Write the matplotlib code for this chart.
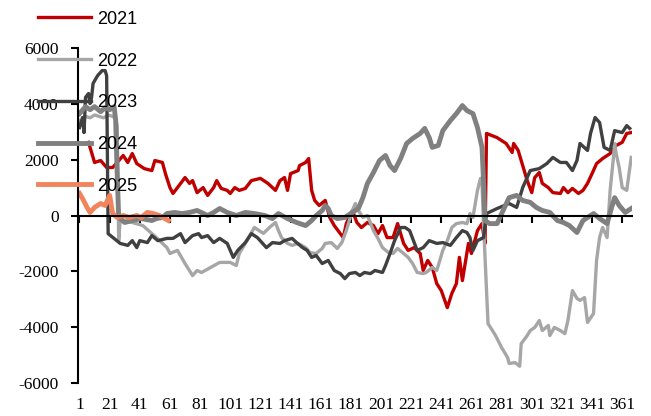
import numpy as np
import matplotlib
matplotlib.use('Agg')
import matplotlib.pyplot as plt

plt.rcParams['axes.unicode_minus'] = False

# day-of-year index and value for each year
days_2021 = [7, 11, 15, 19, 23, 26, 30, 33, 36, 39, 44, 49, 51, 56, 58, 61, 63, 66, 71, 74,
             76, 79, 83, 86, 90, 92, 95, 99, 101, 104, 107, 111, 115, 121, 126, 131, 134, 137, 139, 141,
             146, 147, 151, 153, 155, 157, 160, 164, 167, 170, 174, 176, 178, 182, 185, 188, 192, 196, 199, 202,
             205, 209, 212, 216, 219, 223, 227, 229, 232, 235, 238, 241, 245, 248, 251, 253, 255, 259, 261, 265,
             268, 270, 271, 278, 284, 288, 289, 292, 294, 296, 298, 301, 303, 306, 308, 312, 315, 320, 322, 325,
             328, 332, 335, 338, 341, 344, 348, 353, 357, 361, 364, 367]
vals_2021 = [2620, 1900, 1970, 1720, 1720, 1900, 2150, 1900, 2220, 1860, 1680, 1610, 1970, 1900, 1500, 1000, 790, 1000, 1360, 1150,
             1250, 820, 1000, 720, 1000, 1250, 970, 900, 790, 1000, 900, 970, 1250, 1330, 1150, 900, 1250, 1360, 900, 1500,
             1610, 1790, 1900, 2040, 900, 540, 360, 540, -70, -360, -650, -790, -290, 180, -250, -430, -250, -360, -650, -360,
             -790, -790, -290, -1000, -1250, -1150, -1360, -1970, -1610, -1860, -2440, -2690, -3300, -2790, -2440, -1500, -2330, -1000, -1360, -540,
             -290, -1000, 2940, 2790, 2580, 2260, 2580, 2330, 1970, 1610, 1250, 820, 1360, 1540, 1150, 1000, 820, 790, 1000, 820,
             970, 790, 900, 1150, 1500, 1860, 2040, 2220, 2510, 2620, 2940, 2970]

days_2022 = [1, 3, 5, 8, 11, 14, 17, 20, 23, 25, 26, 27, 28, 36, 43, 52, 59, 61, 66, 71,
             76, 79, 82, 88, 94, 101, 105, 107, 112, 117, 123, 127, 131, 133, 135, 139, 142, 146, 151, 154,
             158, 162, 164, 168, 172, 175, 178, 182, 184, 186, 189, 192, 196, 199, 202, 206, 209, 212, 216, 219,
             222, 225, 229, 231, 235, 238, 242, 245, 248, 251, 255, 258, 260, 262, 265, 267, 268, 269, 272, 277,
             281, 285, 286, 290, 293, 294, 298, 300, 303, 306, 308, 312, 313, 316, 320, 323, 325, 328, 331, 333,
             336, 338, 342, 344, 346, 348, 351, 353, 355, 356, 357, 359, 361, 364, 367]
vals_2022 = [3400, 3300, 3550, 3500, 3600, 3550, 3500, 3600, 3550, 3500, 3200, -900, -150, -250, -360, -790, -1150, -1360, -1250, -1720,
             -2150, -1970, -2040, -1860, -1680, -1680, -1790, -1360, -900, -430, -640, -430, -250, -540, -790, -1000, -1070, -1000, -1150, -1330,
             -1360, -1180, -1000, -970, -1180, -970, -540, 180, 430, 180, -70, 0, -540, -820, -1150, -1330, -1360, -1180, -1360, -1500,
             -1720, -2040, -2080, -2040, -1860, -1970, -1250, -900, -430, -290, -250, -290, 70, -70, 900, 1330, 1150, -290, -3870, -4300,
             -4730, -5090, -5300, -5270, -5400, -4590, -4300, -4120, -4010, -3760, -4120, -3940, -4300, -4010, -4120, -4230, -3760, -2690, -2970, -3040,
             -2940, -3830, -3510, -1610, -790, -430, -790, 900, 1970, 2580, 2220, 1720, 1000, 900, 2080]

days_2023 = [1, 3, 4, 5, 7, 8, 9, 10, 13, 16, 18, 19, 20, 28, 33, 36, 39, 41, 46, 49,
             53, 59, 63, 68, 71, 76, 80, 82, 86, 90, 94, 99, 103, 106, 111, 115, 119, 122, 125, 129,
             134, 137, 142, 145, 149, 152, 155, 158, 162, 166, 170, 174, 177, 180, 184, 187, 190, 194, 197, 202,
             204, 207, 210, 214, 217, 220, 225, 229, 233, 238, 242, 247, 251, 255, 258, 260, 262, 265, 269, 271,
             278, 286, 291, 295, 300, 306, 311, 315, 320, 324, 328, 331, 333, 338, 340, 343, 346, 349, 353, 356,
             361, 364, 366]
vals_2023 = [3150, 3510, 2970, 4230, 4370, 4010, 4230, 4730, 5010, 5190, 5190, 5010, -650, -1000, -1070, -900, -1150, -900, -970, -720,
             -900, -820, -820, -650, -970, -720, -650, -790, -720, -970, -820, -1000, -1500, -1250, -970, -650, -790, -970, -1150, -970,
             -1000, -900, -820, -970, -1150, -1250, -1500, -1430, -1720, -1610, -1970, -2080, -2260, -2080, -2040, -2150, -2040, -2080, -1970, -2040,
             -1790, -1360, -900, -430, -430, -540, -1250, -1150, -900, -1000, -970, -1070, -790, -540, -610, -790, -1250, -900, -790, 70,
             250, 430, 290, 1000, 1610, 1680, 1860, 2080, 1900, 1900, 1610, 1970, 2580, 2330, 2940, 3510, 3330, 2440, 2330, 3040,
             2970, 3220, 3120]

days_2024 = [1, 5, 8, 11, 15, 18, 21, 24, 25, 26, 27, 31, 36, 42, 49, 52, 56, 59, 64, 69,
             74, 79, 86, 90, 94, 99, 105, 111, 117, 124, 129, 133, 139, 145, 151, 155, 158, 162, 164, 166,
             168, 172, 177, 182, 186, 189, 192, 196, 200, 204, 207, 210, 214, 218, 222, 227, 230, 233, 235, 239,
             242, 247, 251, 255, 258, 262, 265, 268, 269, 270, 273, 278, 282, 286, 291, 295, 300, 304, 308, 313,
             318, 322, 326, 331, 335, 342, 346, 351, 354, 356, 359, 363, 367]
vals_2024 = [3650, 3900, 3790, 3900, 3720, 3860, 3790, 3900, 3400, 1500, -70, -250, -180, -110, -180, -110, -70, 70, 110, 70,
             110, 180, 0, 110, 250, 110, 0, 110, 70, 0, -110, 70, -110, -250, -360, -180, 0, 180, 360, 250,
             0, -110, -70, 110, 250, 640, 1150, 1540, 1970, 2150, 1790, 1610, 2040, 2580, 2760, 2940, 3120, 2790, 2440, 2510,
             3040, 3400, 3650, 3940, 3760, 3650, 3150, 2440, 1250, -180, -290, -290, 180, 640, 720, 540, 470, 290, 180, 110,
             -180, -250, -360, -610, -180, 70, -110, -290, 290, 640, 360, 110, 250]

days_2025 = [1, 3, 6, 8, 11, 15, 18, 21, 23, 26, 30, 34, 39, 42, 46, 50, 54, 60]
vals_2025 = [790, 610, 290, 110, 290, 430, 360, 720, 70, -70, 0, -70, 0, -70, 110, 70, 0, -180]

fig = plt.figure(figsize=(6.51, 4.16), dpi=100)
ax = fig.add_axes([0.1198, 0.0793, 0.851, 0.8053])

ax.plot(days_2021, vals_2021, color='#C00000', lw=2.4, label='2021')
ax.plot(days_2022, vals_2022, color='#A6A6A6', lw=2.4, label='2022')
ax.plot(days_2023, vals_2023, color='#404040', lw=2.4, label='2023')
ax.plot(days_2024, vals_2024, color='#808080', lw=3.5, label='2024')
ax.plot(days_2025, vals_2025, color='#F0845C', lw=3.5, label='2025')

ax.set_xlim(0, 367.5)
ax.set_ylim(-6000, 6000)
ax.set_yticks(np.arange(-6000, 6001, 2000))
ax.set_xticks(np.arange(1, 362, 20))

# x axis line sits on zero, labels stay at the bottom
ax.spines['bottom'].set_position(('data', 0))
ax.spines['top'].set_visible(False)
ax.spines['right'].set_visible(False)
for s in ['left', 'bottom']:
    ax.spines[s].set_linewidth(1.5)
ax.tick_params(axis='y', direction='out', length=5, width=1.5, pad=9,
               labelsize=12.5, labelfontfamily='Liberation Serif')
ax.tick_params(axis='x', direction='out', length=5, width=1.5, pad=126,
               labelsize=12.5, labelfontfamily='Liberation Serif')

leg = fig.legend(loc='upper left', bbox_to_anchor=(0.059, 0.974), bbox_transform=fig.transFigure,
                 frameon=False, borderpad=0, borderaxespad=0, handlelength=2.9, handletextpad=0.35,
                 labelspacing=1.37, prop={'family': 'Liberation Sans', 'size': 13})

plt.savefig('out.png', dpi=100)
plt.close()
